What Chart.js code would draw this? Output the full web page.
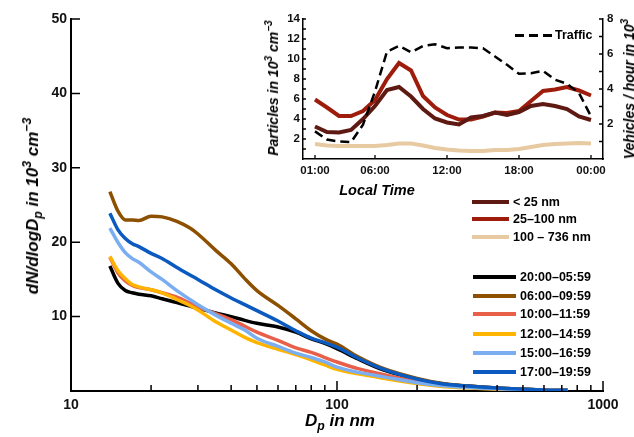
<!DOCTYPE html>
<html>
<head>
<meta charset="utf-8">
<script src="https://cdn.jsdelivr.net/npm/chart.js"></script>
<style>
  html, body { margin: 0; padding: 0; background: #fff; }
  #wrap { position: relative; width: 634px; height: 437px; overflow: hidden;
          font-family: 'Liberation Sans', Arial, sans-serif; font-weight: bold; color: #000; }
  #mainChart { position: absolute; left: 0; top: 0; }
  #insetChart { position: absolute; left: 250px; top: 0; }
  .title { position: absolute; white-space: nowrap; font-style: italic; transform: translate(-50%, -50%); }
  .title.rot { transform: translate(-50%, -50%) rotate(-90deg); }
  .title sub, .title sup { font-size: 72%; line-height: 0; }
  .leg { position: absolute; height: 16px; line-height: 16px; font-size: 12.5px; white-space: nowrap; }
  .leg .sw { position: absolute; top: 6px; height: 4px; }
</style>
</head>
<body>
<div id="wrap">
  <canvas id="mainChart" width="634" height="437"></canvas>
  <canvas id="insetChart" width="384" height="200"></canvas>

  <div class="title rot" style="left:33px; top:206px; font-size:17px;">dN/dlogD<sub>p</sub> in 10<sup>3</sup> cm<sup>−3</sup></div>
  <div class="title" style="left:340px; top:421px; font-size:17px;">D<sub>p</sub> in nm</div>
  <div class="title rot" style="left:273px; top:88px; font-size:14px;">Particles in 10<sup>3</sup> cm<sup>−3</sup></div>
  <div class="title rot" style="left:629px; top:89px; font-size:14px;">Vehicles / hour in 10<sup>3</sup></div>
  <div class="title" style="left:377px; top:190px; font-size:14.5px;">Local Time</div>
</div>

<script>
// ---- 主圖：粒徑分佈 (x = 粒徑 nm) ----
const diameters = [14, 15, 16, 17, 18, 20, 22, 25, 28, 30, 35, 40, 45, 50, 60, 70, 80, 90, 100, 120, 150, 200, 250, 300, 400, 500, 600, 736];

const night    = [16.8, 14.5, 13.5, 13.2, 13.0, 12.8, 12.4, 11.9, 11.4, 11.1, 10.5, 10.0, 9.5, 9.1, 8.6, 7.9, 7.0, 6.4, 5.7, 4.3, 2.8, 1.6, 0.95, 0.7, 0.4, 0.25, 0.15, 0.1];
const morning  = [26.8, 24.2, 23.0, 23.0, 22.9, 23.5, 23.4, 22.8, 21.9, 21.1, 18.9, 17.1, 15.1, 13.5, 11.5, 9.7, 8.1, 7.0, 6.3, 4.6, 3.0, 1.7, 1.0, 0.7, 0.4, 0.25, 0.15, 0.1];
const lateMorn = [18.0, 15.9, 14.8, 14.2, 13.9, 13.6, 13.2, 12.6, 11.8, 11.3, 10.4, 9.6, 8.7, 7.9, 6.8, 5.8, 5.2, 4.5, 3.9, 3.0, 2.2, 1.3, 0.85, 0.6, 0.35, 0.2, 0.12, 0.07];
const midday   = [18.1, 16.2, 15.1, 14.3, 14.0, 13.6, 13.2, 12.3, 11.5, 10.9, 9.3, 8.2, 7.2, 6.5, 5.6, 4.9, 4.2, 3.5, 2.9, 2.3, 1.7, 1.0, 0.6, 0.45, 0.25, 0.15, 0.1, 0.05];
const afternoon= [21.9, 20.0, 18.6, 17.8, 17.3, 16.0, 15.0, 13.5, 12.3, 11.6, 10.2, 9.1, 8.2, 7.1, 6.0, 5.1, 4.5, 3.9, 3.2, 2.5, 1.9, 1.1, 0.7, 0.5, 0.3, 0.18, 0.1, 0.06];
const evening  = [23.9, 21.7, 20.5, 19.8, 19.4, 18.5, 17.8, 16.6, 15.6, 15.0, 13.6, 12.5, 11.6, 10.8, 9.4, 8.1, 7.1, 6.5, 5.9, 4.4, 2.9, 1.6, 0.95, 0.7, 0.4, 0.25, 0.15, 0.1];

const periodLabels = ['20:00–05:59', '06:00–09:59', '10:00–11:59', '12:00–14:59', '15:00–16:59', '17:00–19:59'];
const periodSeries = [night, morning, lateMorn, midday, afternoon, evening];
const periodColors = ['#000000', '#8c5000', '#e8604a', '#ffb400', '#7aaef0', '#0a5ac0'];

const xTickValues = [10, 100, 1000];
const xMinorTicks = [20, 30, 40, 50, 60, 70, 80, 90, 200, 300, 400, 500, 600, 700, 800, 900];
const yTickValues = [10, 20, 30, 40, 50];

// ---- 小圖：日變化 (x = 時) ----
const hours = [1, 2, 3, 4, 5, 6, 7, 8, 9, 10, 11, 12, 13, 14, 15, 16, 17, 18, 19, 20, 21, 22, 23, 24];
const small  = [3.25, 2.7, 2.65, 2.9, 4.0, 5.3, 6.9, 7.2, 6.25, 5.0, 4.05, 3.65, 3.45, 4.15, 4.3, 4.65, 4.4, 4.7, 5.3, 5.5, 5.3, 5.0, 4.25, 3.9];
const medium = [5.95, 5.15, 4.3, 4.3, 4.8, 5.9, 8.0, 9.6, 8.85, 6.3, 5.15, 4.4, 3.95, 3.95, 4.25, 4.65, 4.6, 4.8, 5.8, 6.8, 6.95, 7.2, 6.85, 6.35];
const large  = [1.5, 1.35, 1.3, 1.3, 1.3, 1.3, 1.4, 1.55, 1.55, 1.35, 1.1, 0.95, 0.85, 0.8, 0.8, 0.9, 0.9, 1.0, 1.2, 1.4, 1.5, 1.55, 1.6, 1.55];
const traffic= [1.58, 1.11, 1.0, 0.96, 1.96, 3.86, 6.14, 6.46, 6.1, 6.46, 6.56, 6.33, 6.37, 6.37, 6.33, 5.86, 5.38, 4.87, 4.9, 5.04, 4.53, 4.3, 3.77, 2.44];

const sizeLabels = ['< 25 nm', '25–100 nm', '100 – 736 nm'];
const sizeSeries = [small, medium, large];
const sizeColors = ['#5e1a12', '#9e1c0c', '#e8caa2'];
const trafficLabel = 'Traffic';

const hourTicks = [1, 6, 12, 18, 24];
const hourTickLabels = ['01:00', '06:00', '12:00', '18:00', '00:00'];
const leftMinor = [1, 2, 3, 4, 5, 6, 7, 8, 9, 10, 11, 12, 13, 14];
const rightMinor = [1, 2, 3, 4, 5, 6, 7, 8];

const FONT = "'Liberation Sans', Arial, sans-serif";

// 內向刻度線 (原圖刻度朝圖內)
const inTicks = {
    id: 'inTicks',
    afterDraw(chart, args, opts) {
        const ctx = chart.ctx;
        const area = chart.chartArea;
        ctx.save();
        ctx.strokeStyle = '#000';
        ctx.lineWidth = opts.width || 1.5;
        ctx.beginPath();
        (opts.marks || []).forEach(m => {
            const s = chart.scales[m.axis];
            m.values.forEach(v => {
                const p = s.getPixelForValue(v);
                if (s.isHorizontal()) {
                    ctx.moveTo(p, area.bottom);
                    ctx.lineTo(p, area.bottom - m.len);
                } else if (s.position === 'left') {
                    ctx.moveTo(area.left, p);
                    ctx.lineTo(area.left + m.len, p);
                } else {
                    ctx.moveTo(area.right, p);
                    ctx.lineTo(area.right - m.len, p);
                }
            });
        });
        ctx.stroke();
        ctx.restore();
    }
};

function toPoints(xs, ys) {
    return xs.map((x, i) => ({ x: x, y: ys[i] }));
}

function axisFont(size) {
    return { family: FONT, size: size, weight: 'bold' };
}

// 座標軸共用：不畫格線、不畫外刻度，只畫軸線
function bareGrid() {
    return { display: false, drawTicks: false };
}

// 主圖
new Chart(document.getElementById('mainChart'), {
    type: 'line',
    data: {
        datasets: periodLabels.map((lab, i) => ({
            label: lab,
            data: toPoints(diameters, periodSeries[i]),
            borderColor: periodColors[i],
            borderWidth: 3.5,
            pointRadius: 0,
            cubicInterpolationMode: 'monotone',
            order: periodLabels.length - i
        }))
    },
    options: {
        responsive: false,
        animation: false,
        layout: { padding: { top: 19, right: 31, left: 0, bottom: 0 } },
        plugins: {
            legend: { display: false },
            tooltip: { enabled: false },
            inTicks: {
                width: 1.5,
                marks: [
                    { axis: 'x', values: xMinorTicks, len: 6 },
                    { axis: 'x', values: [100, 1000], len: 10 },
                    { axis: 'y', values: yTickValues, len: 9 }
                ]
            }
        },
        scales: {
            x: {
                type: 'logarithmic',
                min: 10,
                max: 1000,
                grid: bareGrid(),
                border: { display: true, color: '#000', width: 2 },
                afterBuildTicks: s => { s.ticks = xTickValues.map(v => ({ value: v })); },
                afterFit: s => { s.height = 46; },
                ticks: {
                    autoSkip: false, maxRotation: 0, padding: 6, color: '#111',
                    font: axisFont(14),
                    callback: v => String(v)
                }
            },
            y: {
                min: 0,
                max: 50,
                grid: bareGrid(),
                border: { display: true, color: '#000', width: 2 },
                afterFit: s => { s.width = 71; },
                ticks: {
                    stepSize: 10, padding: 4, color: '#111',
                    font: axisFont(14),
                    callback: v => v === 0 ? '' : v
                }
            }
        }
    },
    plugins: [inTicks]
});

// 小圖
const insetSets = sizeLabels.map((lab, i) => ({
    label: lab,
    data: toPoints(hours, sizeSeries[i]),
    yAxisID: 'y',
    borderColor: sizeColors[i],
    borderWidth: 4,
    pointRadius: 0,
    tension: 0,
    order: 2 + i
}));
insetSets.push({
    label: trafficLabel,
    data: toPoints(hours, traffic),
    yAxisID: 'y2',
    borderColor: '#000',
    borderWidth: 2.5,
    borderDash: [9, 5],
    pointRadius: 0,
    tension: 0,
    order: 1
});

new Chart(document.getElementById('insetChart'), {
    type: 'line',
    data: { datasets: insetSets },
    options: {
        responsive: false,
        animation: false,
        layout: { padding: { top: 19, right: 0, left: 0, bottom: 0 } },
        plugins: {
            legend: { display: false },
            tooltip: { enabled: false },
            inTicks: {
                width: 1.3,
                marks: [
                    { axis: 'x', values: hourTicks, len: 4 },
                    { axis: 'y', values: leftMinor, len: 3 },
                    { axis: 'y2', values: rightMinor, len: 4 }
                ]
            }
        },
        scales: {
            x: {
                type: 'linear',
                min: 0,
                max: 25,
                grid: bareGrid(),
                border: { display: true, color: '#000', width: 1.5 },
                afterBuildTicks: s => { s.ticks = hourTicks.map(v => ({ value: v })); },
                afterFit: s => { s.height = 41; },
                ticks: {
                    autoSkip: false, maxRotation: 0, padding: 5, color: '#111',
                    font: axisFont(11.5),
                    callback: v => hourTickLabels[hourTicks.indexOf(v)]
                }
            },
            y: {
                position: 'left',
                min: 0,
                max: 14,
                grid: bareGrid(),
                border: { display: true, color: '#000', width: 1.5 },
                afterFit: s => { s.width = 53; },
                ticks: {
                    stepSize: 2, padding: 3, color: '#111',
                    font: axisFont(11.5),
                    callback: v => v === 0 ? '' : v
                }
            },
            y2: {
                position: 'right',
                min: 0,
                max: 8,
                grid: bareGrid(),
                border: { display: true, color: '#000', width: 1.5 },
                afterFit: s => { s.width = 31; },
                ticks: {
                    stepSize: 2, padding: 4, color: '#111',
                    font: axisFont(11.5),
                    callback: v => v === 0 ? '' : v
                }
            }
        }
    },
    plugins: [inTicks]
});

// 圖例
const wrap = document.getElementById('wrap');
function addLegendRow(x, y, w, gap, color, label, dashed) {
    const row = document.createElement('div');
    row.className = 'leg';
    row.style.left = x + 'px';
    row.style.top = (y - 8) + 'px';
    row.style.paddingLeft = (w + gap) + 'px';
    const sw = document.createElement('span');
    sw.className = 'sw';
    sw.style.left = '0px';
    sw.style.width = w + 'px';
    if (dashed) {
        sw.style.height = '3px';
        sw.style.top = '7px';
        sw.style.background = 'repeating-linear-gradient(to right, #000 0 9px, transparent 9px 14px)';
    } else {
        sw.style.background = color;
    }
    row.appendChild(sw);
    row.appendChild(document.createTextNode(label));
    wrap.appendChild(row);
}

addLegendRow(515, 35, 37, 3, '#000', trafficLabel, true);
const sizeRowsY = [202, 219, 237];
sizeLabels.forEach((lab, i) => addLegendRow(472, sizeRowsY[i], 37, 4, sizeColors[i], lab, false));
const periodRowsY = [277, 296, 314, 334, 353, 372];
periodLabels.forEach((lab, i) => addLegendRow(473, periodRowsY[i], 43, 4, periodColors[i], lab, false));
</script>
</body>
</html>
